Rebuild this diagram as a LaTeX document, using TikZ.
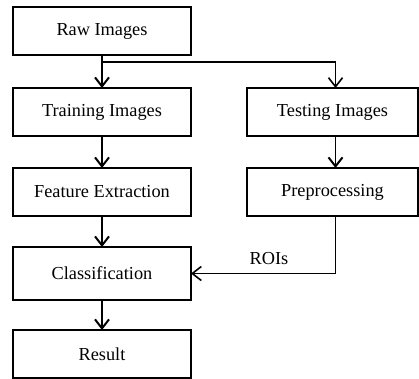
\documentclass[tikz,border=0pt]{standalone}
\usepackage{fontspec}
\setmainfont{Liberation Serif}
\usetikzlibrary{positioning,arrows.meta}
\tikzset{stage/.style={draw, line width=1.8pt, outer sep=0pt, minimum width=178pt, minimum height=48pt, inner sep=0pt, font=\fontsize{18.3}{20}\selectfont}}
\tikzset{teststage/.style={stage, line width=1.1pt, minimum width=171pt}}
\tikzset{flowarrow/.style={-{Straight Barb[length=9pt,width=14pt,line width=2pt]}, line width=1.8pt}}
\tikzset{thinarrow/.style={-{Straight Barb[length=9pt,width=14pt,line width=1.6pt]}, line width=1.1pt}}

\begin{document}
\begin{tikzpicture}
\useasboundingbox (0,0) rectangle (419pt,-378pt);
\node[stage] (raw) at (102pt,-31pt) {Raw Images};
\node[stage, below=33pt of raw] (train) {Training Images};
\node[stage, below=32pt of train] (feat) {Feature Extraction};
\node[stage, below=31pt of feat, minimum height=53pt] (cls) {Classification};
\node[stage, below=30pt of cls] (res) {Result};
\node[teststage, right=56pt of train] (test) {Testing Images};
\node[teststage, below=32pt of test] (prep) {Preprocessing};
\draw[flowarrow] (raw) -- (train);
\draw[thinarrow] ([yshift=-7pt]raw.south) -| ([xshift=3pt]test.north);
\draw[flowarrow] (train) -- (feat);
\draw[flowarrow] (feat) -- (cls);
\draw[flowarrow] (cls) -- (res);
\draw[flowarrow, line width=1.3pt] ([xshift=3pt]test.south) -- ([xshift=3pt]prep.north);
\draw[thinarrow] ([xshift=3pt]prep.south) |- node[pos=0.73, above=5pt, font=\fontsize{18.3}{20}\selectfont] (roi) {ROIs} (cls.east);
\end{tikzpicture}
\end{document}
